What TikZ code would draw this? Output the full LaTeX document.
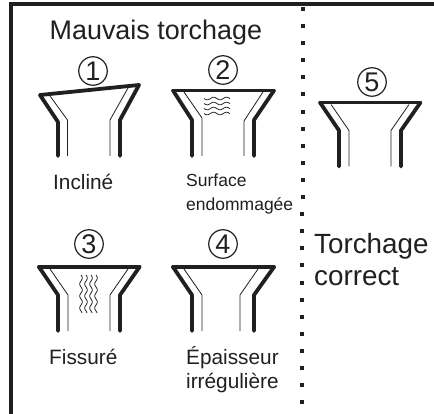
\documentclass[tikz,border=0pt]{standalone}
\usepackage{fontspec}
\setmainfont{Liberation Sans}
\definecolor{ink}{HTML}{231F20}
\tikzset{
  thickline/.style={draw=ink,line width=3.8pt,line cap=round,line join=round},
  thinline/.style={draw=ink,line width=0.8pt},
  frameline/.style={draw=ink,line width=4pt},
  wave/.style={draw=ink,line width=0.75pt,smooth},
  bigtext/.style={text=ink,font=\fontsize{26.9}{30}\selectfont,anchor=base west,inner sep=0pt,align=left},
  sidetext/.style={text=ink,font=\fontsize{27.8}{30}\selectfont,anchor=base west,inner sep=0pt,align=left},
  midtext/.style={text=ink,font=\fontsize{20.8}{22}\selectfont,anchor=base west,inner sep=0pt},
  smalltext/.style={text=ink,font=\fontsize{17.5}{19}\selectfont,anchor=base west,inner sep=0pt},
  numcircle/.style={circle,draw=ink,line width=1.2pt,minimum size=28.5pt,inner sep=0pt,text=ink,font=\fontsize{27}{27}\selectfont}
}
% #1 x of the rim's left end, #2 y of the rim, #3 inner-right shift
\newcommand{\funnelbody}[3]{%
  \begin{scope}[shift={(#1,#2)}]
    \draw[thickline] (0,0) -- (19,28) -- (19,64);
    \draw[thickline] (100.5,0) -- (81,28) -- (81,64);
    \draw[thinline] (11,2) -- (29,28) -- (29,64);
    \draw[thinline] (#3+89,2) -- (#3+71,28) -- (#3+71,64);
  \end{scope}}
\begin{document}
\begin{tikzpicture}[x=1pt,y=-1pt]
\useasboundingbox (0,0) rectangle (434,414);
\fill[white] (0,0) rectangle (434,414);
% frame
\draw[frameline] (11,414) -- (11,4.5) -- (434,4.5);
% separator
\foreach \i in {0,...,11} \fill[ink] ({302.7-2},{9+17.1*\i-2}) rectangle +(4,4);
\foreach \i in {12,...,23} \fill[ink] ({301.8-2},{9+17.1*\i-2}) rectangle +(4,4);
% titles
\node[bigtext] (title) at (49.5,40) {Mauvais torchage};
\node[sidetext] (ok1) at (314,254) {Torchage};
\node[sidetext] (ok2) at (314,286) {correct};
% funnel 1
\draw[thickline] (40,95) -- (139,85);
\draw[thickline] (40,95) -- (58,122) -- (58,156);
\draw[thickline] (139,85) -- (120,120) -- (120,156);
\draw[thinline] (50,96) -- (67.5,120) -- (67.5,156);
\draw[thinline] (128,88) -- (110,120) -- (110,156);
% funnel 2
\draw[thickline] (173,90.5) -- (274,90.5);
\draw[thickline] (173,90.5) -- (192,120) -- (192,156);
\draw[thickline] (274,90.5) -- (254,120) -- (254,156);
\draw[thinline] (184,92) -- (202,118) -- (202,156);
\draw[thinline] (263,92) -- (244,121) -- (244,156);
% funnel 5
\draw[thickline] (320,102.5) -- (420,102.5);
\funnelbody{320}{102.5}{0}
% funnel 3
\draw[thickline] (39,267) -- (139.5,267);
\funnelbody{39}{267}{0}
% funnel 4
\draw[thickline] (173,267) -- (274,267);
\begin{scope}[shift={(173,267)}]
  \draw[thickline] (0,0) -- (19,28) -- (19,64);
  \draw[thickline] (101,0) -- (81,28) -- (81,64);
  \draw[thinline] (11,2) -- (29,28) -- (29,64);
  \draw[thinline] (85,2) -- (67,28) -- (67,64);
\end{scope}
% waves, funnel 2
\foreach \yy in {98.5,103.5,108.5,113.5}
  \draw[wave] plot[domain=0:26,samples=27] ({\x+204},{\yy+1.3*sin(\x*28)});
% waves, funnel 3
\foreach \xx in {81,86,91,96}
  \draw[wave] plot[domain=0:38,samples=39] ({\xx+1.3*sin(\x*30)},{\x+275});
% numbers
\node[numcircle] (n1) at (93,71) {1};
\node[numcircle] (n2) at (223,70) {2};
\node[numcircle] (n5) at (372,82) {5};
\node[numcircle] (n3) at (89,244) {3};
\node[numcircle] (n4) at (223,244) {4};
% labels
\node[midtext] (l1) at (53,190) {Incliné};
\node[smalltext] (l2a) at (186,187) {Surface};
\node[smalltext] (l2b) at (186,211) {endommagée};
\node[midtext] (l3) at (49,364) {Fissuré};
\node[midtext] (l4a) at (186,364) {Épaisseur};
\node[midtext] (l4b) at (186,388.5) {irrégulière};
\end{tikzpicture}
\end{document}
